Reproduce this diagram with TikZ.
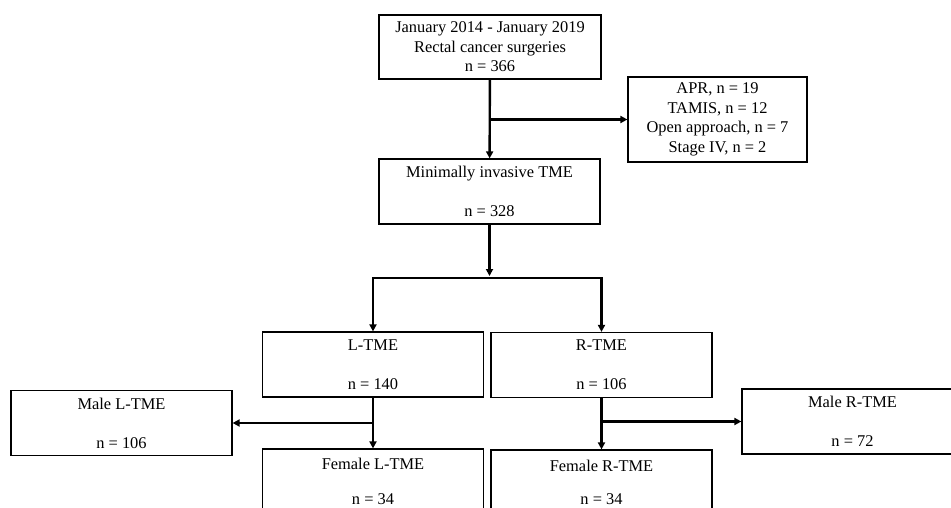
\documentclass[tikz,border=0pt]{standalone}
\usepackage{fontspec}
\setmainfont{Liberation Serif}
\usetikzlibrary{arrows.meta}
\tikzset{
  box/.style={draw, line width=1.2pt, minimum width=221pt, minimum height=65pt, inner sep=0pt, align=center, font=\fontsize{16.4}{19.5}\selectfont},
  flow/.style={line width=2.4pt, -{Triangle[length=7pt,width=7pt]}}
}

\begin{document}
\begin{tikzpicture}[x=1pt, y=-1pt]
\useasboundingbox (0,0) rectangle (951,508);
\node[box, minimum width=222pt, minimum height=64pt] (all) at (490,47) {January 2014 - January 2019\\Rectal cancer surgeries\\n = 366};
\node[box, minimum width=179pt, minimum height=85pt] (excl) at (717.5,119.5) {APR, n = 19\\TAMIS, n = 12\\Open approach, n = 7\\Stage IV, n = 2};
\node[box] (mite) at (489.5,191.5) {Minimally invasive TME\\[19.5pt]n = 328};
\node[box] (ltme) at (373,364.5) {L-TME\\[19.5pt]n = 140};
\node[box] (rtme) at (601.5,365) {R-TME\\[19.5pt]n = 106};
\node[box] (mltme) at (121.5,423) {Male L-TME\\[19.5pt]n = 106};
\node[box] (fltme) at (373,481.5) {Female L-TME\\[15pt]n = 34};
\node[box] (mrtme) at (852.5,421.5) {Male R-TME\\[19.5pt]n = 72};
\node[box] (frtme) at (601.5,482.5) {Female R-TME\\[14pt]n = 34};
\coordinate (fork) at (489.5,278);
% exclusions
\draw[flow] (all) -- (mite);
\draw[flow] (all.south |- excl.west) -- (excl.west);
% split by approach
\draw[flow, shorten >=2pt] (mite) -- (fork);
\draw[flow] (fork) -| (ltme);
\draw[flow] (fork) -| (rtme);
% split by sex
\draw[flow] (ltme) -- (fltme);
\draw[flow] (ltme.south |- mltme.east) -- (mltme.east);
\draw[flow] (rtme) -- (frtme);
\draw[flow] (rtme.south |- mrtme.west) -- (mrtme.west);
\end{tikzpicture}
\end{document}
